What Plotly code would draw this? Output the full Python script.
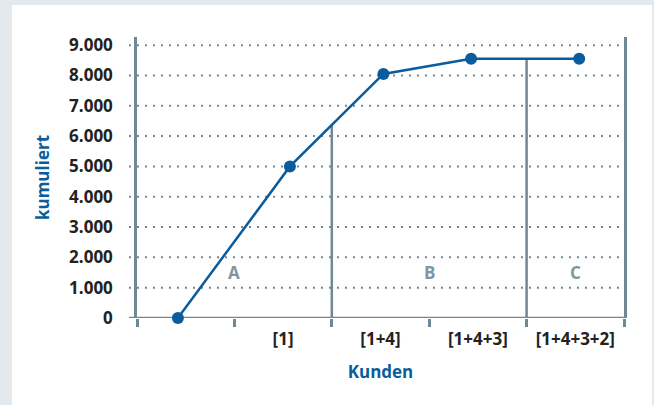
import numpy as np
import plotly.graph_objects as go

# Data
x_pos = [0.42, 1.57, 2.53, 3.43, 4.54]
y_cum = [0, 5000, 8050, 8550, 8550]
cat_pos = [1.5, 2.5, 3.5, 4.5]
cat_labels = ["[1]", "[1+4]", "[1+4+3]", "[1+4+3+2]"]
y_ticks = [0, 1000, 2000, 3000, 4000, 5000, 6000, 7000, 8000, 9000]
y_ticktext = ["0", "1.000", "2.000", "3.000", "4.000", "5.000", "6.000", "7.000", "8.000", "9.000"]
x_bounds = [0, 1, 2, 3, 4, 5]
separators = [2, 4]
zone_names = ["A", "B", "C"]
zone_x = [1.0, 3.0, 4.5]
zone_y = 1500

AX = "#6f8894"
BLUE = "#0a5c9c"
FONT = "Open Sans"
FS = 17

fig = go.Figure()
fig.add_trace(go.Scatter(x=x_pos, y=y_cum, mode="lines+markers",
                         line=dict(color=BLUE, width=2.5),
                         marker=dict(color=BLUE, size=12),
                         cliponaxis=False, hoverinfo="skip"))

shapes = []
# white panel
shapes.append(dict(type="rect", xref="paper", yref="paper",
                   x0=(12-137)/487, x1=(652-137)/487,
                   y0=(318-405)/281, y1=(318-5)/281,
                   fillcolor="white", line=dict(width=0), layer="below"))
# dotted horizontal grid
for v in y_ticks[1:]:
    shapes.append(dict(type="line", xref="x domain", yref="y",
                       x0=-0.0164, x1=1, y0=v, y1=v,
                       line=dict(color=AX, width=2, dash="2px,6px"), layer="below"))
# baseline
shapes.append(dict(type="line", xref="x domain", yref="y",
                   x0=-0.0164, x1=1, y0=0, y1=0,
                   line=dict(color=AX, width=2.5), layer="below"))
# separators up to the curve
for s in separators:
    top = float(np.interp(s, x_pos, y_cum))
    shapes.append(dict(type="line", xref="x", yref="y",
                       x0=s, x1=s, y0=0, y1=top,
                       line=dict(color=AX, width=2.5), layer="below"))

annotations = []
for n, zx in zip(zone_names, zone_x):
    annotations.append(dict(x=zx, y=zone_y, xref="x", yref="y", text=n,
                            showarrow=False,
                            font=dict(family=FONT, size=17, color="#7f96a2", weight="bold")))

fig.update_layout(
    width=654, height=405,
    margin=dict(l=137, r=30, t=37, b=87),
    paper_bgcolor="#e3e9ec", plot_bgcolor="white",
    showlegend=False,
    shapes=shapes, annotations=annotations,
    font=dict(family=FONT, size=FS, color="#222222", weight="bold"),
    xaxis=dict(range=[0, 5], showgrid=False, zeroline=False, showline=False,
               tickvals=cat_pos, ticktext=cat_labels,
               ticks="outside", ticklen=6, tickcolor="rgba(0,0,0,0)",
               tickfont=dict(family=FONT, size=FS, color="#222222", weight="bold"),
               minor=dict(tickvals=x_bounds, ticks="outside", ticklen=8,
                          tickcolor=AX, tickwidth=2.5, showgrid=False),
               title=dict(text="Kunden", standoff=16,
                          font=dict(family=FONT, size=FS, color=BLUE, weight="bold")),
               fixedrange=True),
    yaxis=dict(range=[0, 9270], showgrid=False, zeroline=False,
               showline=True, mirror=True, linecolor=AX, linewidth=2.5,
               tickvals=y_ticks, ticktext=y_ticktext,
               ticks="", ticklabelstandoff=18,
               tickfont=dict(family=FONT, size=FS, color="#222222", weight="bold"),
               title=dict(text="kumuliert", standoff=16,
                          font=dict(family=FONT, size=FS, color=BLUE, weight="bold")),
               fixedrange=True),
)

fig.write_html("out.html", config={"displayModeBar": False})
